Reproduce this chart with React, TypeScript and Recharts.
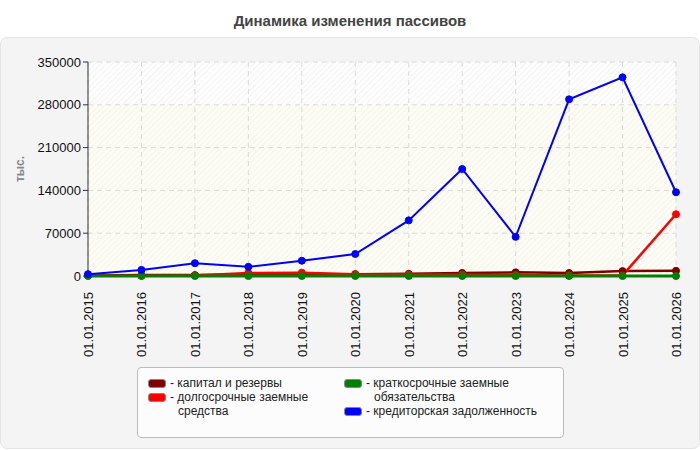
import React from 'react'
import { LineChart, Line, XAxis, YAxis, CartesianGrid } from 'recharts'

const dates = [
  '01.01.2015', '01.01.2016', '01.01.2017', '01.01.2018', '01.01.2019', '01.01.2020',
  '01.01.2021', '01.01.2022', '01.01.2023', '01.01.2024', '01.01.2025', '01.01.2026',
]

const kapital = [1000, 1500, 1500, 2500, 3000, 3000, 3500, 5000, 6000, 5000, 8000, 8500]
const dolgosrochnye = [500, 500, 1000, 5000, 5500, 3000, 2500, 2000, 1500, 1000, 1000, 101000]
const kratkosrochnye = [0, 0, 0, 0, 0, 0, 0, 0, 0, 0, 0, 0]
const kreditorskaya = [3000, 10000, 21000, 15000, 25000, 36000, 91000, 175000, 64000, 289000, 325000, 137000]

const yTicks = [0, 70000, 140000, 210000, 280000, 350000]

// legend labels are split where the reference wraps them
const series = [
  { key: 'kapital', name: 'капитал и резервы', lines: ['капитал и резервы'], color: '#800000', width: 2.5 },
  { key: 'dolg', name: 'долгосрочные заемные средства', lines: ['долгосрочные заемные', 'средства'], color: '#ff0000', width: 2.5 },
  { key: 'krat', name: 'краткосрочные заемные обязательства', lines: ['краткосрочные заемные', 'обязательства'], color: '#008000', width: 3 },
  { key: 'kred', name: 'кредиторская задолженность', lines: ['кредиторская задолженность'], color: '#0000ff', width: 2 },
]

const data = dates.map((d, i) => ({
  date: d,
  kapital: kapital[i],
  dolg: dolgosrochnye[i],
  krat: kratkosrochnye[i],
  kred: kreditorskaya[i],
}))

const font = '"Liberation Sans", Arial, sans-serif'

// top stripe plain hatch, the rest with a faint cream tint
const stripeFills = ['url(#hatch)', 'url(#hatchY)', 'url(#hatchY)', 'url(#hatchY)', 'url(#hatchY)', 'url(#hatchY)']

function DateTick({ x, y, payload }: any) {
  return (
    <text
      x={x}
      y={y}
      transform={`rotate(-90, ${x}, ${y})`}
      dx={-8}
      dy={5}
      textAnchor="end"
      fontSize={13}
      fill="#111"
      fontFamily={font}
    >
      {payload.value}
    </text>
  )
}

function LegendBox() {
  const item = (s: (typeof series)[number], left: number, top: number) => (
    <div key={s.key} style={{ position: 'absolute', left, top }}>
      <div
        style={{
          position: 'absolute',
          left: 0,
          top: 3,
          width: 16,
          height: 7,
          background: s.color,
          border: '1px solid #888',
          borderRadius: 3,
        }}
      />
      {s.lines.map((ln, j) => (
        <div
          key={j}
          style={{
            position: 'absolute',
            left: j === 0 ? 22 : 30,
            top: j * 14,
            whiteSpace: 'nowrap',
            fontSize: 12,
            lineHeight: '14px',
            color: '#222',
          }}
        >
          {j === 0 ? `- ${ln}` : ln}
        </div>
      ))}
    </div>
  )
  return (
    <div
      style={{
        position: 'absolute',
        left: 137,
        top: 367,
        width: 425,
        height: 69,
        background: '#fcfcfc',
        border: '1px solid #bbb',
        borderRadius: 4,
        fontFamily: font,
      }}
    >
      {item(series[0], 10, 8)}
      {item(series[1], 10, 22)}
      {item(series[2], 206, 8)}
      {item(series[3], 206, 36)}
    </div>
  )
}

export default function App() {
  return (
    <div style={{ position: 'absolute', left: 0, top: 0, width: 700, height: 450, background: '#fff', fontFamily: font }}>
      <svg width={0} height={0} style={{ position: 'absolute' }}>
        <defs>
          <pattern id="hatch" width={4} height={4} patternUnits="userSpaceOnUse" patternTransform="rotate(45)">
            <rect width={4} height={4} fill="#ffffff" />
            <line x1={0} y1={0} x2={0} y2={4} stroke="#eeeeee" strokeWidth={1.5} />
          </pattern>
          <pattern id="hatchY" width={4} height={4} patternUnits="userSpaceOnUse" patternTransform="rotate(45)">
            <rect width={4} height={4} fill="#fdfdf6" />
            <line x1={0} y1={0} x2={0} y2={4} stroke="#f1f1ea" strokeWidth={1.5} />
          </pattern>
        </defs>
      </svg>
      <div
        style={{
          position: 'absolute',
          left: 0,
          top: 37,
          width: 698,
          height: 410,
          background: '#f4f4f4',
          border: '1px solid #e4e4e4',
          borderRadius: 7,
        }}
      />
      <div
        style={{
          position: 'absolute',
          left: 0,
          top: 12,
          width: 700,
          textAlign: 'center',
          fontSize: 15,
          fontWeight: 'bold',
          color: '#444',
        }}
      >
        Динамика изменения пассивов
      </div>
      <div style={{ position: 'absolute', left: 0, top: 0 }}>
        <LineChart width={700} height={450} data={data} margin={{ top: 62, right: 24, bottom: 94, left: 28 }}>
          <CartesianGrid
            stroke="#dadada"
            strokeDasharray="5 4"
            horizontalFill={stripeFills}
            fillOpacity={1}
          />
          <XAxis
            dataKey="date"
            interval={0}
            tick={<DateTick />}
            tickLine={false}
            axisLine={false}
            height={80}
            padding={{ left: 0, right: 0 }}
          />
          <XAxis xAxisId="top" dataKey="date" orientation="top" tick={false} tickLine={false} axisLine={{ stroke: '#dddddd' }} height={0} />
          <YAxis yAxisId="right" orientation="right" domain={[0, 350000]} tick={false} tickLine={false} axisLine={{ stroke: '#dddddd' }} width={0} />
          <YAxis
            domain={[0, 350000]}
            ticks={yTicks}
            interval={0}
            width={60}
            tick={{ fill: '#111', fontSize: 13, fontFamily: font }}
            tickLine={{ stroke: '#333' }}
            tickSize={5}
            axisLine={{ stroke: '#333' }}
            label={{
              value: 'тыс.',
              angle: -90,
              position: 'insideLeft',
              offset: -8,
              style: { fill: '#888', fontWeight: 'bold', fontSize: 12, fontFamily: font, textAnchor: 'middle' },
            }}
          />
          {series.map((s) => (
            <Line
              key={s.key}
              type="linear"
              dataKey={s.key}
              name={s.name}
              stroke={s.color}
              strokeWidth={s.width}
              dot={{ r: 3.5, fill: s.color, stroke: s.color, strokeWidth: 1 }}
              activeDot={false}
              isAnimationActive={false}
            />
          ))}
        </LineChart>
      </div>
      <LegendBox />
    </div>
  )
}
